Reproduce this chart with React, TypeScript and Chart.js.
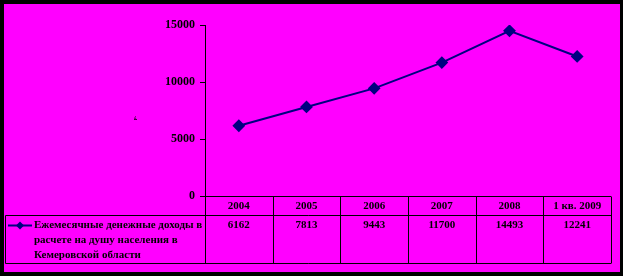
import React, { useEffect, useRef } from "react";
import { Chart, registerables } from "chart.js";

Chart.register(...registerables);

const categories = ["2004", "2005", "2006", "2007", "2008", "1 кв. 2009"];
const incomeValues = [6162, 7813, 9443, 11700, 14493, 12241];
const seriesLabelLines = [
  "Ежемесячные денежные доходы в",
  "расчете на душу населения в",
  "Кемеровской области",
];
const seriesLabel = seriesLabelLines.join(" ");
const yTicks = [0, 5000, 10000, 15000];
const yTitle = "р.";

const FONT = "'Liberation Serif', 'Times New Roman', serif";
const LINE = "#000080";

const tablePlugin = {
  id: "tablePlugin",
  beforeDraw(chart: any) {
    const ctx = chart.ctx;
    ctx.save();
    ctx.fillStyle = "#000000";
    ctx.fillRect(0, 0, chart.width, chart.height);
    ctx.fillStyle = "#ff00ff";
    ctx.fillRect(4, 4, 616, 268);
    ctx.restore();
  },
  afterDraw(chart: any) {
    const ctx = chart.ctx;
    const x = chart.scales.x;
    const area = chart.chartArea;
    const n = categories.length;
    const step = (area.right - area.left) / n;
    const top = area.bottom;
    const mid = top + 18.5;
    const bottom = 263.5;
    const tableLeft = 5.5;
    ctx.save();
    ctx.strokeStyle = "#000000";
    ctx.lineWidth = 1;
    ctx.beginPath();
    ctx.moveTo(area.left - 4, Math.round(top) + 0.5);
    ctx.lineTo(area.right, Math.round(top) + 0.5);
    ctx.moveTo(tableLeft, Math.round(mid) + 0.5);
    ctx.lineTo(area.right, Math.round(mid) + 0.5);
    ctx.moveTo(tableLeft, bottom);
    ctx.lineTo(area.right, bottom);
    ctx.moveTo(tableLeft, Math.round(mid) + 0.5);
    ctx.lineTo(tableLeft, bottom);
    for (let i = 0; i <= n; i++) {
      const px = Math.round(area.left + i * step) + 0.5;
      ctx.moveTo(px, Math.round(top) + 0.5);
      ctx.lineTo(px, bottom);
    }
    ctx.stroke();

    ctx.fillStyle = "#000000";
    ctx.font = "bold 11px " + FONT;
    ctx.textAlign = "center";
    ctx.textBaseline = "middle";
    categories.forEach((c, i) => {
      const cx = x.getPixelForValue(i);
      ctx.fillText(c, cx, top + 10);
      ctx.fillText(String(incomeValues[i]), cx, mid + 11);
    });

    const ly = mid + 11;
    ctx.strokeStyle = LINE;
    ctx.lineWidth = 2;
    ctx.beginPath();
    ctx.moveTo(8, ly);
    ctx.lineTo(32, ly);
    ctx.stroke();
    ctx.fillStyle = LINE;
    ctx.beginPath();
    ctx.moveTo(20, ly - 4);
    ctx.lineTo(24, ly);
    ctx.lineTo(20, ly + 4);
    ctx.lineTo(16, ly);
    ctx.closePath();
    ctx.fill();

    ctx.fillStyle = "#000000";
    ctx.textAlign = "left";
    ctx.font = "bold 11px " + FONT;
    seriesLabelLines.forEach((l, i) => {
      ctx.fillText(l, 34, ly + i * 15);
    });

    ctx.save();
    ctx.translate(135, 118);
    ctx.rotate(-Math.PI / 2);
    ctx.font = "bold 5px " + FONT;
    ctx.textAlign = "center";
    ctx.fillText(yTitle, 0, 0);
    ctx.restore();
    ctx.restore();
  },
};

export default function App() {
  const ref = useRef<HTMLCanvasElement | null>(null);
  useEffect(() => {
    document.body.style.margin = "0";
    const chart = new Chart(ref.current as HTMLCanvasElement, {
      type: "line",
      data: {
        labels: categories,
        datasets: [
          {
            label: seriesLabel,
            data: incomeValues,
            borderColor: LINE,
            backgroundColor: LINE,
            borderWidth: 2,
            pointStyle: "rectRot",
            pointRadius: 5,
            pointHoverRadius: 5,
            tension: 0,
          },
        ],
      },
      options: {
        responsive: false,
        animation: false,
        layout: { padding: { left: 0, top: 25, right: 12, bottom: 80 } },
        plugins: { legend: { display: false }, tooltip: { enabled: false } },
        scales: {
          x: { display: false, offset: true },
          y: {
            min: 0,
            max: 15000,
            afterFit: (s: any) => {
              s.width = 205;
            },
            afterBuildTicks: (s: any) => {
              s.ticks = yTicks.map((v) => ({ value: v }));
            },
            border: { display: true, color: "#000000", width: 1 },
            grid: {
              drawOnChartArea: false,
              drawTicks: true,
              tickLength: 5,
              color: "#000000",
            },
            ticks: {
              color: "#000000",
              font: { family: FONT, size: 12, weight: "bold" },
              padding: 5,
              callback: (v: any) => String(v),
            },
          },
        },
      },
      plugins: [tablePlugin],
    });
    return () => chart.destroy();
  }, []);
  return (
    <div style={{ position: "fixed", left: 0, top: 0, width: 623, height: 276 }}>
      <canvas ref={ref} width={623} height={276} style={{ display: "block" }} />
    </div>
  );
}
